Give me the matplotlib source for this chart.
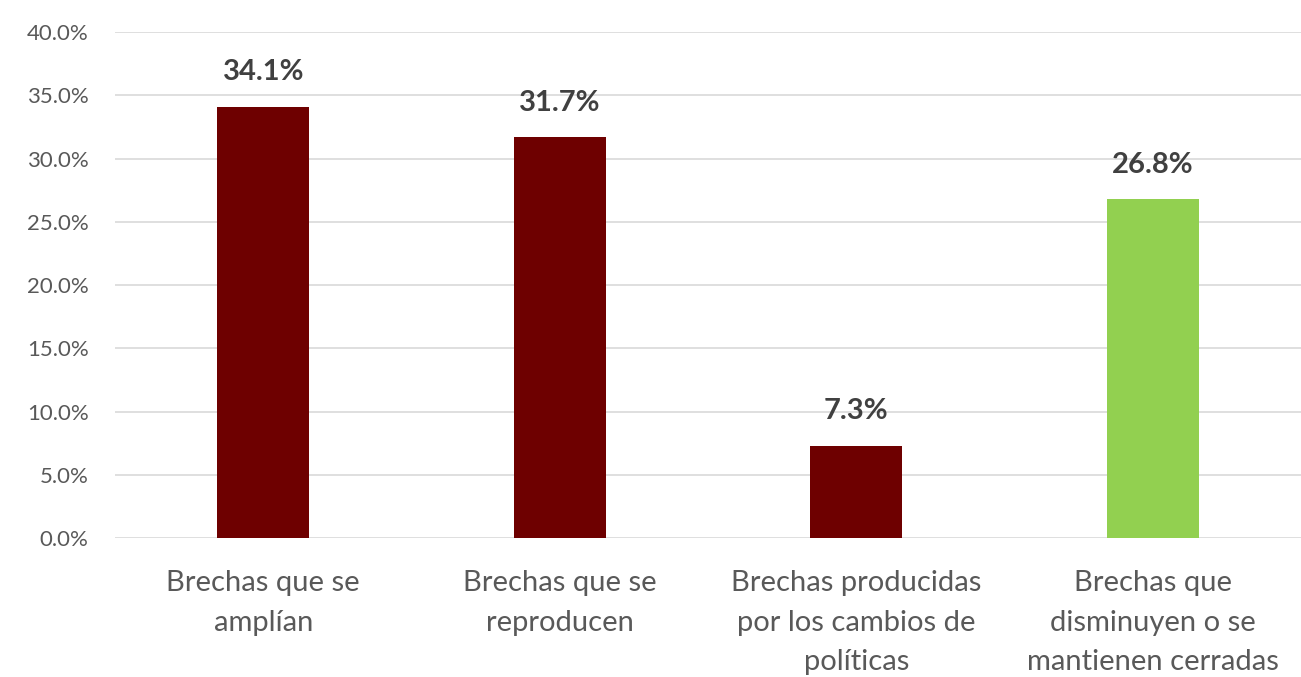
import numpy as np
import matplotlib.pyplot as plt
from matplotlib.ticker import FuncFormatter

categorias = ['Brechas que se\namplían', 'Brechas que se\nreproducen',
              'Brechas producidas\npor los cambios de\npolíticas',
              'Brechas que\ndisminuyen o se\nmantienen cerradas']
valores = [34.1, 31.7, 7.3, 26.8]
colores = ['#6E0000', '#6E0000', '#6E0000', '#92D050']
yticks = [0, 5, 10, 15, 20, 25, 30, 35, 40]

plt.rcParams['font.family'] = ['Lato', 'DejaVu Sans']

fig = plt.figure(figsize=(13.01, 6.77), dpi=100)
ax = fig.add_axes([0.0884, 0.2053, 0.9116, 0.7474])

x = np.arange(len(valores))
ax.bar(x, valores, width=0.31, color=colores, zorder=3)

for xi, v in zip(x, valores):
    ax.annotate('%.1f%%' % v, (xi, v), xytext=(0, 19), textcoords='offset points',
                ha='center', va='baseline', fontsize=21, fontweight='bold', color='#404040')

ax.set_xlim(-0.5, 3.5)
ax.set_ylim(0, 40)
ax.set_yticks(yticks)
ax.yaxis.set_major_formatter(FuncFormatter(lambda v, p: '%.1f%%' % v))
ax.grid(axis='y', color='#D9D9D9', linewidth=1.2, zorder=0)
for s in ax.spines.values():
    s.set_visible(False)

ax.set_xticks(x)
ax.set_xticklabels(categorias, fontsize=21, color='#595959', linespacing=1.65)
ax.tick_params(axis='x', length=0, pad=23)
ax.tick_params(axis='y', length=0, pad=19, labelsize=16, labelcolor='#595959')

fig.savefig('out.png', dpi=100)
